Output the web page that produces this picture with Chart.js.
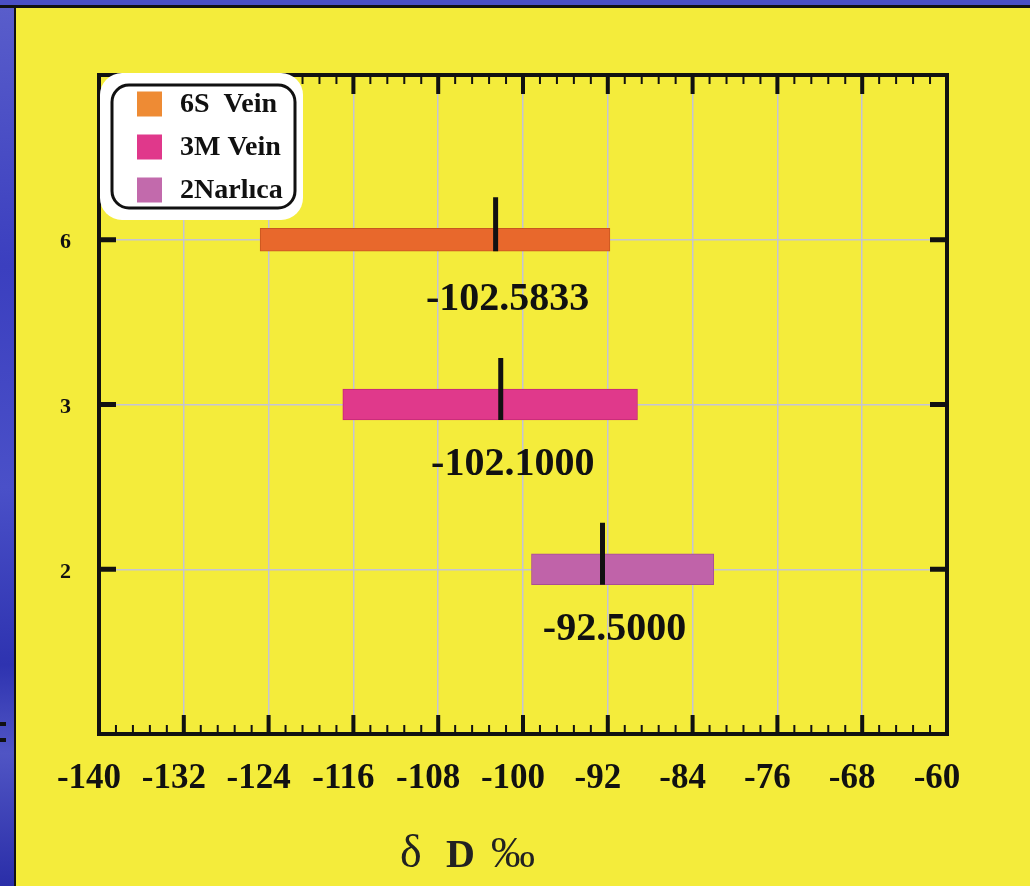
<!DOCTYPE html>
<html>
<head>
<meta charset="utf-8">
<script src="https://cdn.jsdelivr.net/npm/chart.js@4/dist/chart.umd.min.js"></script>
<style>
  html, body { margin: 0; padding: 0; }
  body { width: 1030px; height: 886px; background: #f4ec3b; position: relative; overflow: hidden; }
  #leftBand { position: absolute; left: 0; top: 0; width: 14px; height: 886px;
    background: linear-gradient(180deg, #5a5ecb 0%, #3b3fbf 30%, #4a50c8 55%, #2e33b0 75%, #5055c4 85%, #2a2ea8 100%); }
  #leftLine { position: absolute; left: 14px; top: 0; width: 2px; height: 886px; background: #111; }
  #topBand { position: absolute; left: 0; top: 0; width: 1030px; height: 5px; background: #4a4fc4; }
  #topLine { position: absolute; left: 0; top: 5px; width: 1030px; height: 3px; background: #111; }
  .dash { position: absolute; left: 0; width: 6px; height: 4px; background: #111; }
  #wrap { position: absolute; left: 0; top: 0; width: 1030px; height: 886px; }
</style>
</head>
<body>
<div id="leftBand"></div>
<div id="leftLine"></div>
<div id="topBand"></div>
<div id="topLine"></div>
<div class="dash" style="top:722px"></div>
<div class="dash" style="top:738px"></div>
<div id="wrap"><canvas id="isoChart" width="1030" height="886"></canvas></div>
<script>
// deltaD ranges per vein
const seriesLabels = ['6S  Vein', '3M Vein', '2Narlıca'];
const categoryLabels = ['6', '3', '2'];
const categoryPos = [1, 2, 3];
const rangeMin = [-124.8, -117.0, -99.2];
const rangeMax = [-91.8, -89.2, -82.0];
const meanValues = [-102.5833, -102.1, -92.5];
const xMin = -140;
const xMax = -60;
const xStep = 8;

const barColors = ['#e8682c', '#e0398b', '#c063a9'];
const barEdges = ['#c8561e', '#c42a74', '#a84e92'];
const legendColors = ['#ee8b34', '#e0388b', '#c26aac'];
const barSizes = [23, 31, 31];
const serif = '"Liberation Serif", "Times New Roman", serif';

// frame with inward ticks, like the original plot
const framePlugin = {
    id: 'frame',
    afterDatasetsDraw(chart) {
        const {ctx, chartArea: a} = chart;
        const xs = chart.scales.x;
        const ys = chart.scales.y;
        ctx.save();
        ctx.strokeStyle = '#111';
        ctx.lineCap = 'butt';
        // minor ticks
        ctx.lineWidth = 2;
        for (let v = xMin; v < xMax; v += xStep) {
            for (let k = 1; k < 5; k++) {
                const px = xs.getPixelForValue(v + k * xStep / 5);
                ctx.beginPath();
                ctx.moveTo(px, a.top); ctx.lineTo(px, a.top + 9);
                ctx.moveTo(px, a.bottom); ctx.lineTo(px, a.bottom - 9);
                ctx.stroke();
            }
        }
        // major ticks
        ctx.lineWidth = 4;
        for (let v = xMin + xStep; v < xMax; v += xStep) {
            const px = xs.getPixelForValue(v);
            ctx.beginPath();
            ctx.moveTo(px, a.top); ctx.lineTo(px, a.top + 19);
            ctx.moveTo(px, a.bottom); ctx.lineTo(px, a.bottom - 19);
            ctx.stroke();
        }
        ctx.lineWidth = 5;
        categoryPos.forEach(p => {
            const py = ys.getPixelForValue(p);
            ctx.beginPath();
            ctx.moveTo(a.left, py); ctx.lineTo(a.left + 17, py);
            ctx.moveTo(a.right, py); ctx.lineTo(a.right - 17, py);
            ctx.stroke();
        });
        ctx.lineWidth = 4;
        ctx.strokeRect(a.left, a.top, a.right - a.left, a.bottom - a.top);

        // mean markers and their values
        chart.data.datasets.forEach((ds, i) => {
            const bar = chart.getDatasetMeta(i).data[0];
            const mx = xs.getPixelForValue(meanValues[i]);
            const half = bar.height / 2;
            ctx.fillStyle = '#111';
            ctx.fillRect(mx - 2.5, bar.y - half - 31, 5, half * 2 + 31);
            ctx.font = 'bold 40px ' + serif;
            ctx.textAlign = 'center';
            ctx.textBaseline = 'middle';
            ctx.fillText(meanValues[i].toFixed(4), mx + 12, bar.y + 60);
        });
        ctx.restore();
    }
};

function roundRect(ctx, x, y, w, h, r) {
    ctx.beginPath();
    ctx.moveTo(x + r, y);
    ctx.arcTo(x + w, y, x + w, y + h, r);
    ctx.arcTo(x + w, y + h, x, y + h, r);
    ctx.arcTo(x, y + h, x, y, r);
    ctx.arcTo(x, y, x + w, y, r);
    ctx.closePath();
}

// boxed legend in the top left corner and the axis title
const legendBoxPlugin = {
    id: 'legendBox',
    afterDraw(chart) {
        const {ctx, chartArea: a} = chart;
        const x0 = a.left + 1;
        const y0 = a.top - 2;
        ctx.save();
        ctx.fillStyle = '#ffffff';
        roundRect(ctx, x0, y0, 203, 147, 22);
        ctx.fill();
        ctx.strokeStyle = '#111';
        ctx.lineWidth = 3;
        roundRect(ctx, x0 + 12, y0 + 12, 183, 123, 17);
        ctx.stroke();
        ctx.font = 'bold 28px ' + serif;
        ctx.textAlign = 'left';
        ctx.textBaseline = 'middle';
        chart.data.datasets.forEach((ds, i) => {
            const cy = y0 + 31 + i * 43;
            ctx.fillStyle = legendColors[i];
            ctx.fillRect(x0 + 37, cy - 12.5, 25, 25);
            ctx.fillStyle = '#111';
            ctx.fillText(ds.label, x0 + 80, cy + 1);
        });

        // x axis title: delta D permil
        ctx.textBaseline = 'alphabetic';
        ctx.fillStyle = '#222';
        const ty = 867;
        ctx.font = '46px ' + serif;
        ctx.fillText('δ', 400, ty);
        ctx.font = 'bold 40px ' + serif;
        ctx.fillText('D', 446, ty);
        ctx.font = '44px ' + serif;
        ctx.fillText('‰', 491, ty);
        ctx.restore();
    }
};

const ctx = document.getElementById('isoChart').getContext('2d');
const isoChart = new Chart(ctx, {
    type: 'bar',
    data: {
        datasets: seriesLabels.map((label, i) => ({
            label: label,
            data: [{x: [rangeMin[i], rangeMax[i]], y: categoryPos[i]}],
            backgroundColor: barColors[i],
            borderColor: barEdges[i],
            borderWidth: 1,
            borderSkipped: false,
            barThickness: barSizes[i],
            grouped: false
        }))
    },
    options: {
        indexAxis: 'y',
        responsive: false,
        animation: false,
        layout: { padding: { left: 0, top: 75, right: 83, bottom: 0 } },
        plugins: {
            legend: { display: false },
            tooltip: { enabled: false }
        },
        scales: {
            x: {
                type: 'linear',
                min: xMin,
                max: xMax,
                afterFit: (s) => { s.height = 152; },
                border: { display: false },
                grid: { color: '#c3c3d6', lineWidth: 1.5, drawTicks: false },
                ticks: {
                    stepSize: xStep,
                    color: '#111',
                    padding: 24,
                    labelOffset: -10,
                    font: { family: serif, size: 35, weight: 'bold' }
                }
            },
            y: {
                type: 'linear',
                reverse: true,
                min: 0,
                max: 4,
                offset: false,
                afterFit: (s) => { s.width = 99; },
                border: { display: false },
                grid: { color: '#c3c3d6', lineWidth: 1.5, drawTicks: false, offset: false },
                ticks: {
                    stepSize: 1,
                    color: '#111',
                    padding: 28,
                    labelOffset: 3,
                    font: { family: serif, size: 22, weight: 'bold' },
                    callback: (v) => {
                        const k = categoryPos.indexOf(v);
                        return k >= 0 ? categoryLabels[k] : '';
                    }
                }
            }
        }
    },
    plugins: [framePlugin, legendBoxPlugin]
});
</script>
</body>
</html>
